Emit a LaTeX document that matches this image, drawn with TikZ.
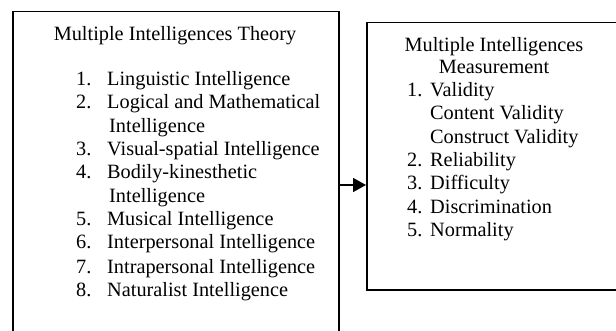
\documentclass[tikz,border=0pt]{standalone}
\usepackage{fontspec}
\setmainfont{Liberation Serif}
\usetikzlibrary{arrows.meta}
\tikzset{
  box/.style={draw, line width=1.5pt, inner sep=0pt, anchor=north west},
  txt/.style={anchor=base west, inner sep=0pt, font=\fontsize{20.3}{23.3}\selectfont},
  head/.style={txt, anchor=base},
  link/.style={line width=1.5pt, -{Triangle[length=13pt,width=14pt]}}
}
\begin{document}
\begin{tikzpicture}[x=1pt,y=-1pt]
        \useasboundingbox (0,0) rectangle (616,331);
        %% theory box
        \node[box, minimum width=326pt, minimum height=324pt] (theory) at (12,11) {};
        \node[head] (theorytitle) at (175,41) {Multiple Intelligences Theory};
        \node[txt] (n1) at (76,86) {1.};
        \node[txt] (t1) at (107,86) {Linguistic Intelligence};
        \node[txt] (n2) at (76,109) {2.};
        \node[txt] (t2) at (107,109) {Logical and Mathematical};
        \node[txt] (t2b) at (109,133) {Intelligence};
        \node[txt] (n3) at (76,156) {3.};
        \node[txt] (t3) at (107,156) {Visual-spatial Intelligence};
        \node[txt] (n4) at (76,179) {4.};
        \node[txt] (t4) at (107,179) {Bodily-kinesthetic};
        \node[txt] (t4b) at (109,203) {Intelligence};
        \node[txt] (n5) at (76,226) {5.};
        \node[txt] (t5) at (107,226) {Musical Intelligence};
        \node[txt] (n6) at (76,249) {6.};
        \node[txt] (t6) at (107,249) {Interpersonal Intelligence};
        \node[txt] (n7) at (76,273) {7.};
        \node[txt] (t7) at (107,273) {Intrapersonal Intelligence};
        \node[txt] (n8) at (76,296) {8.};
        \node[txt] (t8) at (107,296) {Naturalist Intelligence};
        %% measurement box
        \node[box, minimum width=256pt, minimum height=267pt] (measure) at (366,22) {};
        \node[head] (measuretitle) at (494,52) {Multiple Intelligences};
        \node[head] (measuretitleb) at (494,74) {Measurement};
        \node[txt] (m1) at (407,97) {1.};
        \node[txt] (v1) at (430,97) {Validity};
        \node[txt] (v1a) at (430,120) {Content Validity};
        \node[txt] (v1b) at (430,144) {Construct Validity};
        \node[txt] (m2) at (407,167) {2.};
        \node[txt] (v2) at (430,167) {Reliability};
        \node[txt] (m3) at (407,190) {3.};
        \node[txt] (v3) at (430,190) {Difficulty};
        \node[txt] (m4) at (407,214) {4.};
        \node[txt] (v4) at (430,214) {Discrimination};
        \node[txt] (m5) at (407,237) {5.};
        \node[txt] (v5) at (430,237) {Normality};
        %% link
        \coordinate (linky) at (0,185);
        \draw[link] (theory.east |- linky) -- (measure.west |- linky);
    \end{tikzpicture}
\end{document}
